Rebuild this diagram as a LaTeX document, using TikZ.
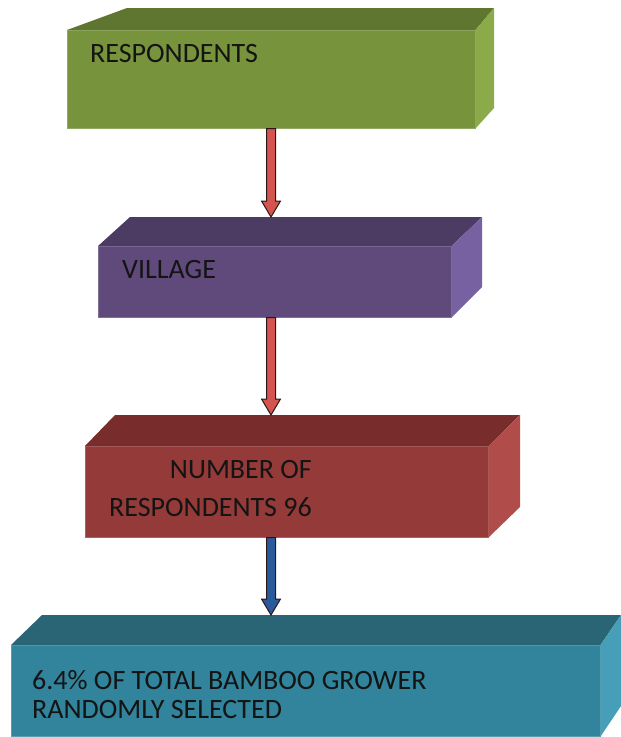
\documentclass[tikz,border=0pt]{standalone}
\usepackage{fontspec}
\setmainfont{Carlito}
\usetikzlibrary{calc}
\definecolor{gruen}{HTML}{77933C}
\definecolor{gruend}{HTML}{5F7631}
\definecolor{gruenh}{HTML}{8BAA4A}
\definecolor{lila}{HTML}{604A7B}
\definecolor{lilad}{HTML}{4C3B63}
\definecolor{lilah}{HTML}{7761A0}
\definecolor{rot}{HTML}{943A38}
\definecolor{rotd}{HTML}{782C2B}
\definecolor{roth}{HTML}{B04C49}
\definecolor{petrol}{HTML}{31849B}
\definecolor{petrold}{HTML}{2A6575}
\definecolor{petrolh}{HTML}{479EB8}
\definecolor{pfeilrot}{HTML}{D4544F}
\definecolor{pfeilblau}{HTML}{2A5A9A}
\definecolor{pfeilrand}{HTML}{2A1616}
\definecolor{schwarz}{HTML}{141414}
\tikzset{
  flaeche/.style={fill=#1,draw=#1!80!white,line width=0.5pt,inner sep=0pt,anchor=north west},
  schrift/.style={text=schwarz,inner sep=0pt,font=\fontsize{28}{32}\selectfont},
  pfeil/.style={fill=#1,draw=pfeilrand,line width=1pt,line join=miter},
}
% Blockpfeil von #1 nach #2, Farbe #3
\newcommand{\blockpfeil}[3]{%
  \draw[pfeil=#3] let \p1=(#1), \p2=(#2) in
    (\x1-4.5pt,\y1) -- (\x1-4.5pt,\y2+16pt) -- (\x1-9.5pt,\y2+16pt) -- (\x1,\y2)
    -- (\x1+9.5pt,\y2+16pt) -- (\x1+4.5pt,\y2+16pt) -- (\x1+4.5pt,\y1) -- cycle;}

\begin{document}
\begin{tikzpicture}[x=1pt,y=-1pt]
  \useasboundingbox (0,0) rectangle (621,737);
  \coordinate (achse) at (271,0);
  % Kasten 1
  \node[flaeche=gruen,minimum width=408pt,minimum height=98pt] (resp) at (67,30) {};
  \coordinate (resp-hl) at (127,8);
  \coordinate (resp-hr) at (494,8);
  \fill[gruend] (resp.north west) -- (resp-hl) -- (resp-hr) -- (resp.north east) -- cycle;
  \fill[gruenh] (resp.north east) -- (resp-hr) -- ++(0,100) -- (resp.south east) -- cycle;
  \node[schrift,anchor=base west] (respt) at (90,62) {RESPONDENTS};
  % Kasten 2
  \node[flaeche=lila,minimum width=353pt,minimum height=71pt] (vill) at (98,246) {};
  \coordinate (vill-hl) at (130,217);
  \coordinate (vill-hr) at (482,217);
  \fill[lilad] (vill.north west) -- (vill-hl) -- (vill-hr) -- (vill.north east) -- cycle;
  \fill[lilah] (vill.north east) -- (vill-hr) -- ++(0,70) -- (vill.south east) -- cycle;
  \node[schrift,anchor=base west] (villt) at (122,278) {VILLAGE};
  % Kasten 3
  \node[flaeche=rot,minimum width=403pt,minimum height=91pt] (numb) at (85,446) {};
  \coordinate (numb-hl) at (115,415);
  \coordinate (numb-hr) at (520,415);
  \fill[rotd] (numb.north west) -- (numb-hl) -- (numb-hr) -- (numb.north east) -- cycle;
  \fill[roth] (numb.north east) -- (numb-hr) -- ++(0,92) -- (numb.south east) -- cycle;
  \node[schrift,anchor=north east,align=right,font=\fontsize{28}{38}\selectfont]
    (numbt) at (312,460) {NUMBER OF\\RESPONDENTS 96};
  % Kasten 4
  \node[flaeche=petrol,minimum width=589pt,minimum height=91pt] (grow) at (11,645) {};
  \coordinate (grow-hl) at (42,615);
  \coordinate (grow-hr) at (621,615);
  \fill[petrold] (grow.north west) -- (grow-hl) -- (grow-hr) -- (grow.north east) -- cycle;
  \fill[petrolh] (grow.north east) -- (grow-hr) -- ++(0,91) -- (grow.south east) -- cycle;
  \node[schrift,anchor=north west,align=left,font=\fontsize{28}{29}\selectfont]
    (growt) at (32,670) {6.4\% OF TOTAL BAMBOO GROWER\\RANDOMLY SELECTED};
  % Pfeile
  \blockpfeil{achse |- resp.south}{achse |- vill-hl}{pfeilrot}
  \blockpfeil{achse |- vill.south}{achse |- numb-hl}{pfeilrot}
  \blockpfeil{achse |- numb.south}{achse |- grow-hl}{pfeilblau}
\end{tikzpicture}
\end{document}
